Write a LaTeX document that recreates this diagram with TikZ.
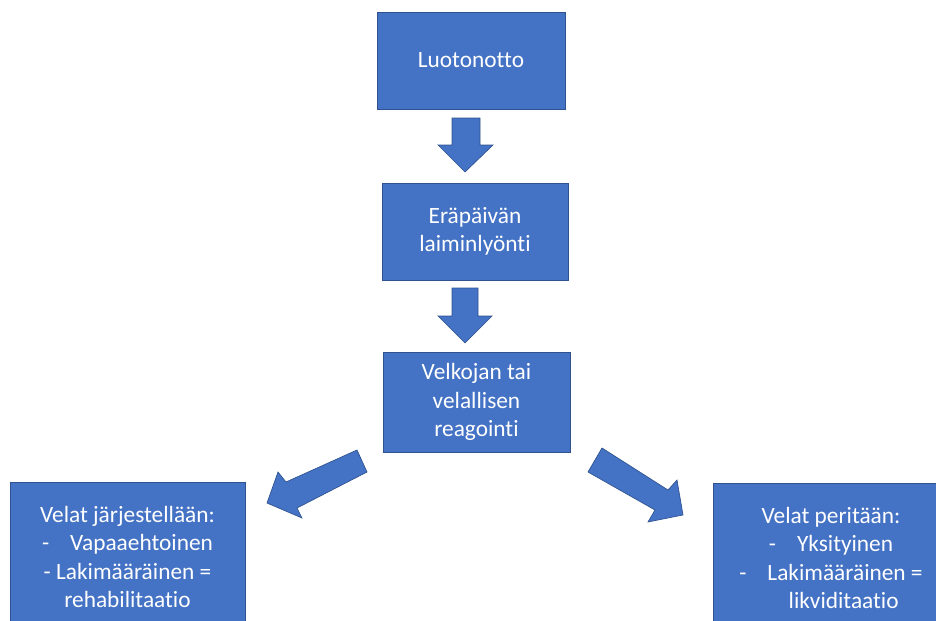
\documentclass[tikz,border=0pt]{standalone}
\usepackage{fontspec}
\setmainfont[Ligatures=NoCommon]{Carlito}
\definecolor{boxfill}{HTML}{4472C4}
\definecolor{boxline}{HTML}{2F528F}
\begin{document}
\begin{tikzpicture}[x=0.75pt,y=-0.75pt,
  blockbox/.style={draw=boxline, line width=0.6pt, fill=boxfill, text=white,
    inner sep=0pt, align=center,
    font=\fontsize{17.5pt}{21.4pt}\selectfont},
  blockarrow/.style={draw=boxline, line width=0.5pt, fill=boxfill, line join=miter}]
\useasboundingbox (0,0) rectangle (936,621);
\begin{scope}
\clip (0,0) rectangle (936,621);
\node[blockbox, minimum width=141pt, minimum height=72.75pt] (b1) at (471,60.5) {Luotonotto};
\node[blockbox, minimum width=139.5pt, minimum height=72.75pt] (b2) at (475,231.5) {Eräpäivän\\laiminlyönti};
\node[blockbox, minimum width=140.25pt, minimum height=75pt] (b3) at (476.5,402) {Velkojan tai\\velallisen\\reagointi};
\node[blockbox, minimum width=176.25pt, minimum height=112.5pt] (b4) at (127.5,557) {Velat järjestellään:\\-\hspace{0.9em}Vapaaehtoinen\\- Lakimääräinen =\\rehabilitaatio};
\node[blockbox, minimum width=177pt, minimum height=112.5pt] (b5) at (831,558) {Velat peritään:\\-\hspace{0.9em}Yksityinen\\-\hspace{0.9em}Lakimääräinen =\\\hspace*{19pt}likviditaatio};
\end{scope}
% down arrow 1
\draw[blockarrow] (452,118) -- (480,118) -- (480,145) -- (493,145) -- (465,172) -- (438,145) -- (452,145) -- cycle;
% down arrow 2
\draw[blockarrow] (452,288) -- (478,288) -- (478,316) -- (492,316) -- (465,343) -- (438,316) -- (452,316) -- cycle;
% left diagonal arrow
\draw[blockarrow] (357,450) -- (367,472) -- (297,508) -- (302,518) -- (267,503) -- (278,472) -- (286,482) -- cycle;
% right diagonal arrow
\draw[blockarrow] (602,448) -- (668,490) -- (677,480) -- (683,515) -- (648,522) -- (655,510) -- (588,472) -- cycle;
\end{tikzpicture}
\end{document}
